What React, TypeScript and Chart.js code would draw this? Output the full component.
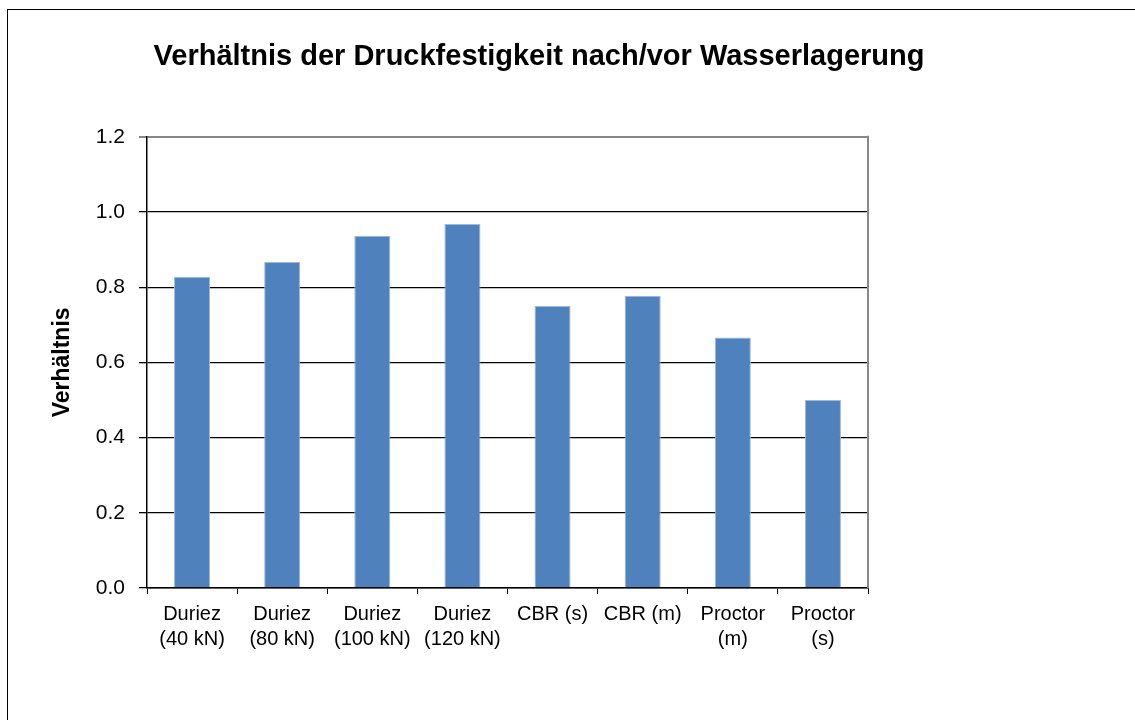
import React, { useEffect, useRef } from "react";
import { Chart, registerables } from "chart.js";

Chart.register(...registerables);

const categories: (string | string[])[] = [
  ["Duriez", "(40 kN)"],
  ["Duriez", "(80 kN)"],
  ["Duriez", "(100 kN)"],
  ["Duriez", "(120 kN)"],
  "CBR (s)",
  "CBR (m)",
  ["Proctor", "(m)"],
  ["Proctor", "(s)"],
];
const ratioValues: number[] = [0.828, 0.867, 0.937, 0.968, 0.75, 0.777, 0.666, 0.5];
const yTicks: number[] = [0, 0.2, 0.4, 0.6, 0.8, 1.0, 1.2];

const titleText = "Verhältnis der Druckfestigkeit nach/vor Wasserlagerung";
const yTitleText = "Verhältnis";
const FONT = "'Liberation Sans', Arial, Helvetica, sans-serif";

const frameRight = {
  id: "frameRight",
  afterDatasetsDraw(chart: any) {
    const { ctx, chartArea } = chart;
    ctx.save();
    ctx.strokeStyle = "#888888";
    ctx.lineWidth = 2;
    ctx.beginPath();
    ctx.moveTo(chartArea.right, chartArea.top - 1);
    ctx.lineTo(chartArea.right, chartArea.bottom);
    ctx.stroke();
    ctx.restore();
  },
};

export default function App() {
  const ref = useRef<HTMLCanvasElement | null>(null);

  useEffect(() => {
    if (!ref.current) return;
    const chart = new Chart(ref.current, {
      type: "bar",
      data: {
        labels: categories,
        datasets: [
          {
            data: ratioValues,
            backgroundColor: "#4F81BD",
            borderColor: "#9DB9DE",
            borderWidth: 1,
            barPercentage: 0.4,
            categoryPercentage: 1,
          },
        ],
      },
      options: {
        animation: false,
        responsive: false,
        maintainAspectRatio: false,
        devicePixelRatio: 1,
        layout: { padding: { left: 0, right: 57, top: 0, bottom: 0 } },
        plugins: {
          legend: { display: false },
          tooltip: { enabled: false },
          title: {
            display: true,
            text: titleText,
            color: "#000",
            font: { family: FONT, size: 29, weight: "bold", lineHeight: 1.2 },
            padding: { top: 40, bottom: 62 },
          },
        },
        scales: {
          x: {
            type: "category",
            offset: true,
            grid: {
              display: true,
              offset: true,
              drawOnChartArea: false,
              drawTicks: true,
              tickLength: 6,
              color: "#000",
              lineWidth: 1,
            },
            border: { display: true, color: "#000", width: 1.5 },
            ticks: {
              color: "#000",
              font: { family: FONT, size: 20, lineHeight: 1.25 },
              padding: 8,
              maxRotation: 0,
              minRotation: 0,
              autoSkip: false,
            },
            afterFit(scale: any) {
              scale.height = 132;
            },
          },
          y: {
            type: "linear",
            position: "left",
            min: 0,
            max: 1.2,
            afterBuildTicks(scale: any) {
              scale.ticks = yTicks.map((v) => ({ value: v }));
            },
            grid: {
              display: true,
              drawTicks: true,
              tickLength: 8,
              color: (c: any) => (c.tick && Math.abs(c.tick.value - 1.2) < 1e-6 ? "#888888" : "#000"),
              lineWidth: (c: any) => (c.tick && Math.abs(c.tick.value - 1.2) < 1e-6 ? 2 : 1.3),
            },
            border: { display: true, color: "#000", width: 1.5 },
            ticks: {
              color: "#000",
              font: { family: FONT, size: 21 },
              padding: 14,
              callback: (v: any) => Number(v).toFixed(1),
            },
            title: {
              display: true,
              text: yTitleText,
              color: "#000",
              font: { family: FONT, size: 23, weight: "bold", lineHeight: 1.2 },
              padding: { top: 49, bottom: 0 },
            },
            afterFit(scale: any) {
              scale.width = 147;
            },
          },
          y2: {
            type: "linear",
            position: "right",
            display: true,
            grid: { display: false, drawTicks: false },
            border: { display: false },
            ticks: { display: false },
            afterFit(scale: any) {
              scale.width = 210;
            },
          },
        },
      },
      plugins: [frameRight],
    } as any);
    return () => chart.destroy();
  }, []);

  return (
    <>
      <div
        style={{
          position: "fixed",
          left: 7,
          top: 9,
          width: 1135,
          height: 720,
          borderLeft: "1px solid #000",
          borderTop: "1px solid #000",
          boxSizing: "border-box",
          background: "#fff",
        }}
      />
      <canvas
        ref={ref}
        width={1135}
        height={720}
        style={{ position: "fixed", left: 0, top: 0, width: 1135, height: 720 }}
      />
    </>
  );
}
